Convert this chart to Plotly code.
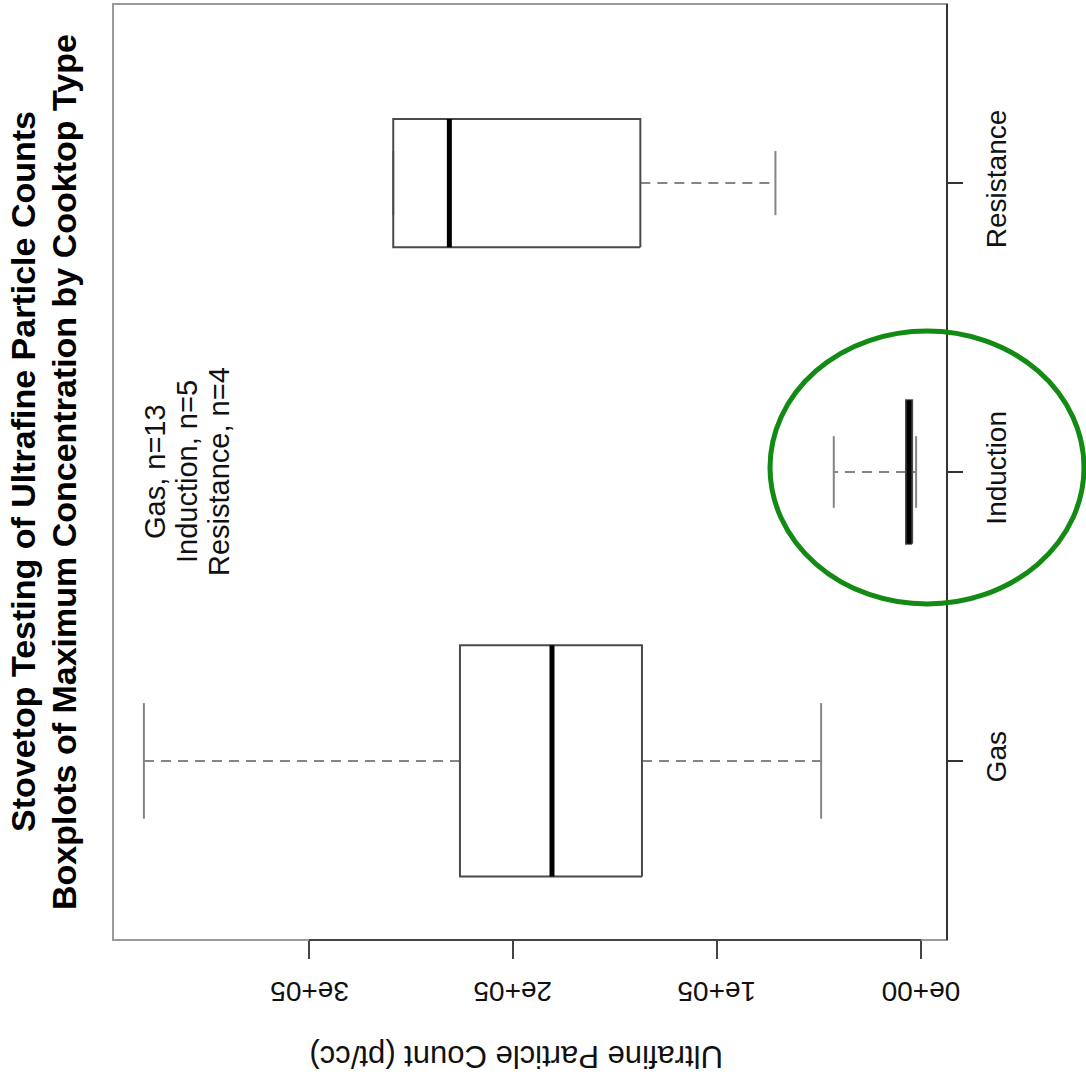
import numpy as np
import plotly.graph_objects as go

# ---- data ----
categories = ["Gas", "Induction", "Resistance"]
n_counts = [13, 5, 4]
lower_whisker = [49000, 2450, 71400]
q1_values = [136800, 4400, 137600]
medians = [180900, 5900, 231200]
q3_values = [226000, 7400, 258700]
upper_whisker = [380900, 42800, 258700]
value_ticks = [0, 100000, 200000, 300000]
value_tick_labels = ["0e+00", "1e+05", "2e+05", "3e+05"]
title_lines = ["Stovetop Testing of Ultrafine Particle Counts",
               "Boxplots of Maximum Concentration by Cooktop Type"]
value_axis_title = "Ultrafine Particle Count (pt/cc)"

W, H = 1086, 1088
ML, MR, MT, MB = 113, 139, 4, 148
PW, PH = W - ML - MR, H - MT - MB

FONT = "Liberation Sans, Arial, sans-serif"
BOX_COL = "#4a4a4a"
WHISK_COL = "#858585"

def px_x(p):  # pixel -> paper x
    return (p - ML) / PW

def px_y(p):  # pixel -> paper y
    return (MT + PH - p) / PH

fig = go.Figure()

pos = np.arange(1, len(categories) + 1)
nmax = max(n_counts)
for i, cat in enumerate(categories):
    p = pos[i]
    h = 0.4 * np.sqrt(n_counts[i] / nmax)
    s = h / 2
    # whiskers (dashed)
    fig.add_trace(go.Scatter(x=[q1_values[i], lower_whisker[i]], y=[p, p], mode="lines",
                             line=dict(color=WHISK_COL, width=2, dash="10px,7px"),
                             showlegend=False, hoverinfo="skip"))
    fig.add_trace(go.Scatter(x=[q3_values[i], upper_whisker[i]], y=[p, p], mode="lines",
                             line=dict(color=WHISK_COL, width=2, dash="10px,7px"),
                             showlegend=False, hoverinfo="skip"))
    # staples
    for wv in (lower_whisker[i], upper_whisker[i]):
        fig.add_trace(go.Scatter(x=[wv, wv], y=[p - s, p + s], mode="lines",
                                 line=dict(color=WHISK_COL, width=2),
                                 showlegend=False, hoverinfo="skip"))
    # box
    fig.add_trace(go.Scatter(x=[q1_values[i], q3_values[i], q3_values[i], q1_values[i], q1_values[i]],
                             y=[p - h, p - h, p + h, p + h, p - h], mode="lines",
                             line=dict(color=BOX_COL, width=2),
                             showlegend=False, name=cat))
    # median
    fig.add_trace(go.Scatter(x=[medians[i], medians[i]], y=[p - h, p + h], mode="lines",
                             line=dict(color="black", width=5),
                             showlegend=False, hoverinfo="skip"))

vmin, vmax = min(lower_whisker), max(upper_whisker)
ext = (vmax - vmin) * 0.04
xr = [vmax + ext, vmin - ext]
yr = [1 - 0.62, len(categories) + 0.62]

fig.update_layout(
    width=W, height=H,
    margin=dict(l=ML, r=MR, t=MT, b=MB, pad=0),
    paper_bgcolor="white", plot_bgcolor="white",
    font=dict(family=FONT, color="#111"),
    xaxis=dict(range=xr, showgrid=False, zeroline=False, showline=False,
               tickmode="array", tickvals=value_ticks, showticklabels=False,
               ticks="outside", ticklen=18, tickwidth=2, tickcolor="#444"),
    yaxis=dict(range=yr, side="right", showgrid=False, zeroline=False, showline=False,
               tickmode="array", tickvals=list(pos), ticktext=categories,
               ticks="outside", ticklen=15, tickwidth=2, tickcolor="#333",
               tickangle=-90, tickfont=dict(size=28, family=FONT, color="#111"),
               ticklabelstandoff=9),
)

shapes = [
    # frame
    dict(type="rect", xref="paper", yref="paper", x0=0, x1=1, y0=0, y1=1,
         line=dict(color="#9a9a9a", width=2)),
    # value axis line
    dict(type="line", xref="x", yref="paper", x0=value_ticks[0], x1=value_ticks[-1], y0=0, y1=0,
         line=dict(color="#444", width=2)),
    # category axis line (right side)
    dict(type="line", xref="paper", yref="paper", x0=1, x1=1, y0=0, y1=1,
         line=dict(color="#333", width=2)),
    # green highlight ellipse
    dict(type="circle", xref="paper", yref="paper",
         x0=px_x(770), x1=px_x(1084), y0=px_y(604), y1=px_y(331),
         line=dict(color="#138a13", width=5)),
]
fig.update_layout(shapes=shapes)

annotations = []
# title lines (rotated, reading upward)
for txt, cx in zip(title_lines, [23, 64]):
    annotations.append(dict(text=f"<b>{txt}</b>", xref="paper", yref="paper",
                            x=px_x(cx), y=px_y(472), textangle=-90, showarrow=False,
                            font=dict(size=34, family=FONT, color="black"),
                            xanchor="center", yanchor="middle"))
# value-axis tick labels (upside down)
for tv, tl in zip(value_ticks, value_tick_labels):
    annotations.append(dict(text=tl, xref="x", yref="paper", x=tv, y=px_y(992),
                            textangle=180, showarrow=False,
                            font=dict(size=28, family=FONT, color="#111"),
                            xanchor="center", yanchor="middle"))
# value-axis title (upside down)
annotations.append(dict(text=value_axis_title, xref="paper", yref="paper",
                        x=px_x(517), y=px_y(1057), textangle=180, showarrow=False,
                        font=dict(size=31, family=FONT, color="#111"),
                        xanchor="center", yanchor="middle"))
# sample-size notes
line_x = [155, 187, 219]
for i, cat in enumerate(categories):
    annotations.append(dict(text=f"{cat}, n={n_counts[i]}", xref="paper", yref="paper",
                            x=px_x(line_x[i]), y=px_y(472), textangle=-90, showarrow=False,
                            font=dict(size=29, family=FONT, color="#111"),
                            xanchor="center", yanchor="middle"))
fig.update_layout(annotations=annotations)

fig.write_html("out.html")
